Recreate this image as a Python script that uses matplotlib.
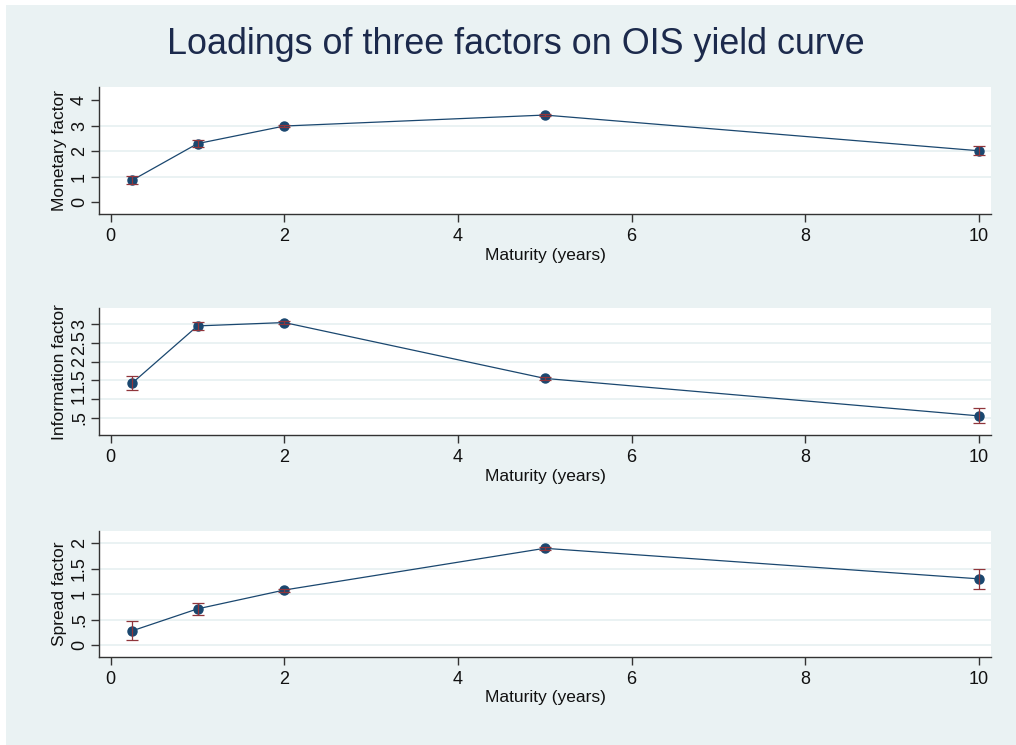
import matplotlib
matplotlib.use('Agg')
import matplotlib.pyplot as plt
from matplotlib.patches import Rectangle

plt.rcParams['font.family'] = ['Liberation Sans', 'DejaVu Sans']

# maturities in years
maturity = [0.25, 1, 2, 5, 10]

# loadings and half-width of the confidence band
monetary = [0.86, 2.29, 2.98, 3.41, 2.01]
monetary_err = [0.17, 0.13, 0.04, 0.04, 0.18]
information = [1.43, 2.95, 3.04, 1.55, 0.55]
information_err = [0.18, 0.11, 0.03, 0.04, 0.20]
spread = [0.28, 0.71, 1.08, 1.90, 1.30]
spread_err = [0.19, 0.12, 0.03, 0.03, 0.19]

xticks = [0, 2, 4, 6, 8, 10]
monetary_ticks = [0, 1, 2, 3, 4]
monetary_labels = ['0', '1', '2', '3', '4']
information_ticks = [0.5, 1, 1.5, 2, 2.5, 3]
information_labels = ['.5', '1', '1.5', '2', '2.5', '3']
spread_ticks = [0, 0.5, 1, 1.5, 2]
spread_labels = ['0', '.5', '1', '1.5', '2']

BG = '#EAF2F3'
NAVY = '#1A476F'
MAROON = '#90353B'
AXCOL = '#333333'

fig = plt.figure(figsize=(10.16, 7.45), dpi=100, facecolor='white')
fig.patches.append(Rectangle((6/1016, 0), 1 - 6/1016, 1 - 5/745,
                             transform=fig.transFigure, facecolor=BG,
                             edgecolor='none', zorder=-10))

fig.text(0.508, 1 - 45/745, 'Loadings of three factors on OIS yield curve',
         ha='center', va='center', fontsize=25.8, color='#1c2a4c')

panels = [
    # (y values, errors, ylabel, ticks, labels, ylim, axes rect, hide end grids)
    (monetary, monetary_err, 'Monetary factor', monetary_ticks, monetary_labels,
     (-0.47, 4.51), [99/1016, 1 - 214/745, 892/1016, 127/745], True),
    (information, information_err, 'Information factor', information_ticks,
     information_labels, (0.04, 3.42), [99/1016, 1 - 435/745, 892/1016, 126.7/745], False),
    (spread, spread_err, 'Spread factor', spread_ticks, spread_labels,
     (-0.23, 2.24), [99/1016, 1 - 656.7/745, 892/1016, 125.7/745], False),
]

for vals, errs, ylab, yt, ytl, ylim, rect, hide_ends in panels:
    ax = fig.add_axes(rect)
    ax.set_facecolor('white')
    ax.plot(maturity, vals, color=NAVY, lw=0.9, marker='o', ms=6.5,
            markerfacecolor=NAVY, markeredgecolor=NAVY, zorder=3)
    ax.errorbar(maturity, vals, yerr=errs, fmt='none', ecolor=MAROON,
                elinewidth=0.9, capsize=4, capthick=0.9, zorder=4)

    ax.set_xlim(-0.135, 10.14)
    ax.set_ylim(*ylim)
    ax.set_xticks(xticks)
    ax.set_yticks(yt)
    ax.set_yticklabels(ytl, rotation=90, va='center')

    ax.grid(axis='y', color=BG, lw=1.4)
    ax.set_axisbelow(True)
    if hide_ends:
        gl = ax.get_ygridlines()
        gl[0].set_visible(False)
        gl[-1].set_visible(False)

    for s in ['top', 'right']:
        ax.spines[s].set_visible(False)
    for s in ['left', 'bottom']:
        ax.spines[s].set_color(AXCOL)
        ax.spines[s].set_linewidth(1.0)
    ax.tick_params(axis='both', colors=AXCOL, length=6, width=1.0,
                   labelsize=13, labelcolor='#111111')
    ax.tick_params(axis='x', pad=4)
    ax.tick_params(axis='y', pad=2)

    ax.set_xlabel('Maturity (years)', fontsize=12.5, color='#111111', labelpad=2)
    ax.set_ylabel(ylab, fontsize=12.5, color='#111111', labelpad=3)

fig.savefig('out.png', dpi=100, facecolor=fig.get_facecolor())
